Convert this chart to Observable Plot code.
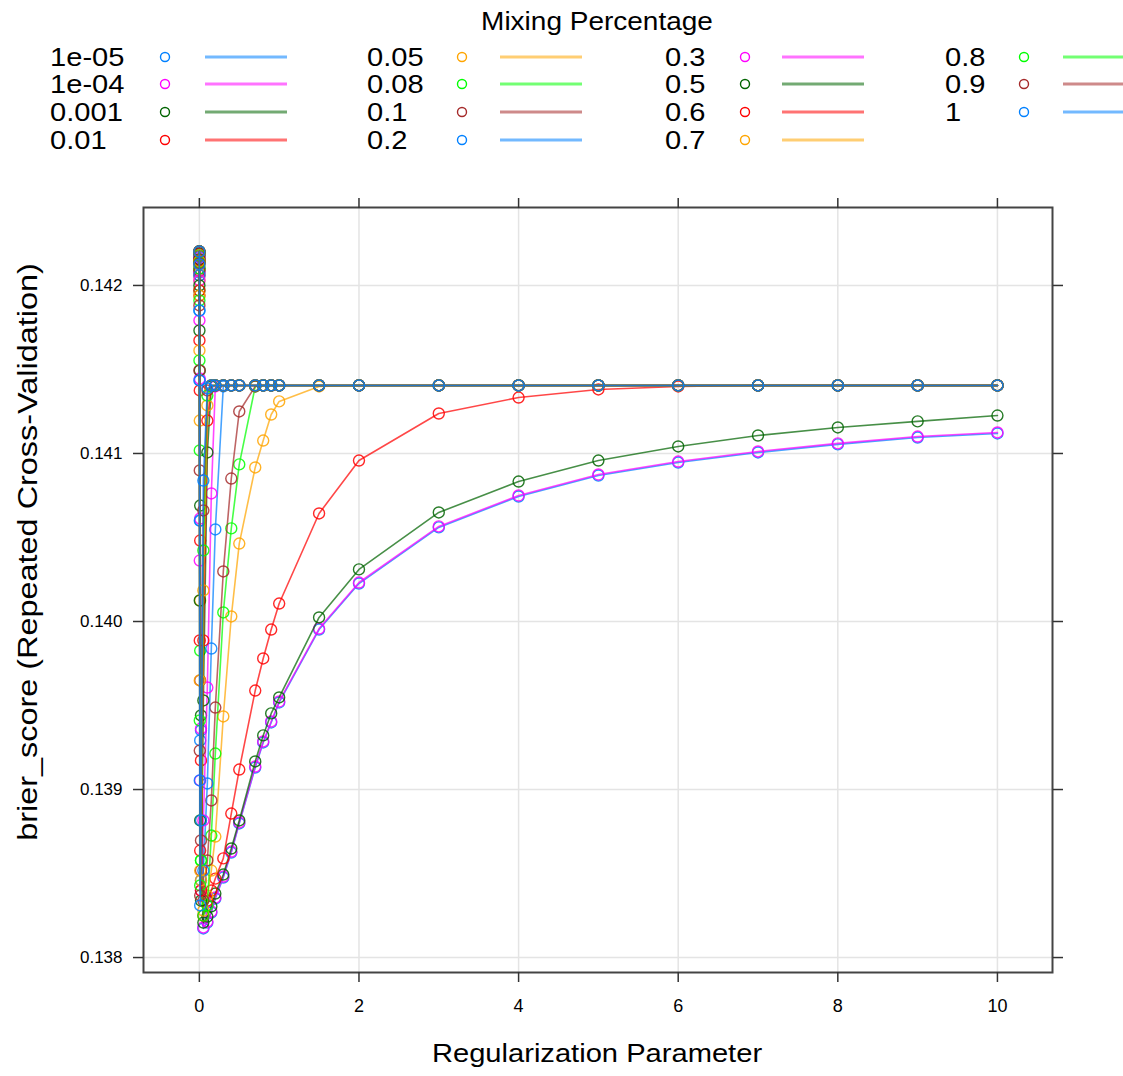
<!DOCTYPE html>
<html><head><meta charset="utf-8">
<script src="https://cdn.jsdelivr.net/npm/d3@7"></script>
<script src="https://cdn.jsdelivr.net/npm/@observablehq/plot@0.6"></script>
<style>
body{margin:0;background:#fff;font-family:"Liberation Sans",Arial,sans-serif;color:#000;}
#wrap{position:relative;width:1123px;height:1076px;overflow:hidden;background:#fff;}
#legend{position:absolute;left:0;top:0;}
#chart{position:absolute;left:0;top:160px;}
#xtitle{position:absolute;left:597px;top:1053px;transform:translate(-50%,-50%) scale(1.12,1);white-space:nowrap;font-size:26px;line-height:30px;}
#ytitle{position:absolute;left:28px;top:552px;transform:translate(-50%,-50%) rotate(-90deg) scale(1.2,1);white-space:nowrap;font-size:27px;line-height:30px;}
</style></head>
<body>
<div id="wrap">
  <div id="legend"></div>
  <div id="chart"></div>
  <div id="xtitle">Regularization Parameter</div>
  <div id="ytitle">brier_score (Repeated Cross-Validation)</div>
</div>
<script>
// ---- data ----
const legendTitle = "Mixing Percentage";
const alphas = ["1e-05","1e-04","0.001","0.01","0.05","0.08","0.1","0.2","0.3","0.5","0.6","0.7","0.8","0.9","1"];
const colors = ["#0080ff","#ff00ff","#006400","#ff0000","#ffa500","#00ff00","#a52a2a",
                "#0080ff","#ff00ff","#006400","#ff0000","#ffa500","#00ff00","#a52a2a","#0080ff"];
const lambdas = [0, 0.0001, 0.0005, 0.001, 0.005, 0.01, 0.02, 0.05, 0.1, 0.15, 0.2, 0.3, 0.4, 0.5, 0.7, 0.8, 0.9, 1, 1.5, 2, 3, 4, 5, 6, 7, 8, 9, 10];
const xTicks = [0, 2, 4, 6, 8, 10];
const yTicks = [0.138, 0.139, 0.140, 0.141, 0.142];

const brier_1e05 = [0.142202, 0.142190, 0.142137, 0.142077, 0.141435, 0.140601, 0.139352, 0.138173, 0.138208, 0.138268, 0.138351, 0.138476, 0.138625, 0.138798, 0.139131, 0.139280, 0.139399, 0.139518, 0.139952, 0.140226, 0.140560, 0.140744, 0.140869, 0.140946, 0.141006, 0.141054, 0.141095, 0.141119];
const brier_1e04 = [0.142202, 0.142190, 0.142143, 0.142083, 0.141446, 0.140613, 0.139363, 0.138179, 0.138214, 0.138274, 0.138357, 0.138482, 0.138631, 0.138804, 0.139137, 0.139286, 0.139405, 0.139524, 0.139958, 0.140232, 0.140566, 0.140750, 0.140875, 0.140952, 0.141012, 0.141060, 0.141101, 0.141125];
const brier_0001 = [0.142202, 0.142190, 0.142149, 0.142101, 0.141494, 0.140690, 0.139441, 0.138208, 0.138244, 0.138304, 0.138381, 0.138494, 0.138649, 0.138816, 0.139167, 0.139322, 0.139453, 0.139548, 0.140024, 0.140310, 0.140649, 0.140833, 0.140958, 0.141042, 0.141107, 0.141155, 0.141191, 0.141226];
const brier_001 = [0.142202, 0.142185, 0.142137, 0.142060, 0.141375, 0.140482, 0.139173, 0.138250, 0.138339, 0.138399, 0.138470, 0.138590, 0.138857, 0.139119, 0.139589, 0.139780, 0.139952, 0.140107, 0.140643, 0.140958, 0.141238, 0.141333, 0.141381, 0.141399, 0.141405, 0.141405, 0.141405, 0.141405];
const brier_005 = [0.142202, 0.142179, 0.142119, 0.142030, 0.141196, 0.140125, 0.138816, 0.138280, 0.138369, 0.138518, 0.138720, 0.139435, 0.140030, 0.140464, 0.140917, 0.141077, 0.141232, 0.141310, 0.141399, 0.141405, 0.141405, 0.141405, 0.141405, 0.141405, 0.141405, 0.141405, 0.141405, 0.141405];
const brier_008 = [0.142202, 0.142179, 0.142101, 0.141970, 0.141018, 0.139827, 0.138578, 0.138250, 0.138310, 0.138726, 0.139214, 0.140054, 0.140554, 0.140935, 0.141399, 0.141405, 0.141405, 0.141405, 0.141405, 0.141405, 0.141405, 0.141405, 0.141405, 0.141405, 0.141405, 0.141405, 0.141405, 0.141405];
const brier_01 = [0.142202, 0.142173, 0.142089, 0.141940, 0.140899, 0.139649, 0.138518, 0.138339, 0.138578, 0.138935, 0.139488, 0.140298, 0.140851, 0.141250, 0.141399, 0.141405, 0.141405, 0.141405, 0.141405, 0.141405, 0.141405, 0.141405, 0.141405, 0.141405, 0.141405, 0.141405, 0.141405, 0.141405];
const brier_02 = [0.142202, 0.142167, 0.142060, 0.141851, 0.140601, 0.139292, 0.138459, 0.138518, 0.139036, 0.139839, 0.140548, 0.141399, 0.141405, 0.141405, 0.141405, 0.141405, 0.141405, 0.141405, 0.141405, 0.141405, 0.141405, 0.141405, 0.141405, 0.141405, 0.141405, 0.141405, 0.141405, 0.141405];
const brier_03 = [0.142202, 0.142161, 0.142030, 0.141792, 0.140363, 0.139054, 0.138399, 0.138816, 0.139607, 0.140762, 0.141399, 0.141405, 0.141405, 0.141405, 0.141405, 0.141405, 0.141405, 0.141405, 0.141405, 0.141405, 0.141405, 0.141405, 0.141405, 0.141405, 0.141405, 0.141405, 0.141405, 0.141405];
const brier_05 = [0.142202, 0.142155, 0.142000, 0.141732, 0.140125, 0.138816, 0.138339, 0.139530, 0.141006, 0.141399, 0.141405, 0.141405, 0.141405, 0.141405, 0.141405, 0.141405, 0.141405, 0.141405, 0.141405, 0.141405, 0.141405, 0.141405, 0.141405, 0.141405, 0.141405, 0.141405, 0.141405, 0.141405];
const brier_06 = [0.142202, 0.142149, 0.141970, 0.141673, 0.139887, 0.138637, 0.138399, 0.139887, 0.141196, 0.141405, 0.141405, 0.141405, 0.141405, 0.141405, 0.141405, 0.141405, 0.141405, 0.141405, 0.141405, 0.141405, 0.141405, 0.141405, 0.141405, 0.141405, 0.141405, 0.141405, 0.141405, 0.141405];
const brier_07 = [0.142202, 0.142143, 0.141940, 0.141613, 0.139649, 0.138518, 0.138459, 0.140185, 0.141286, 0.141405, 0.141405, 0.141405, 0.141405, 0.141405, 0.141405, 0.141405, 0.141405, 0.141405, 0.141405, 0.141405, 0.141405, 0.141405, 0.141405, 0.141405, 0.141405, 0.141405, 0.141405, 0.141405];
const brier_08 = [0.142202, 0.142137, 0.141911, 0.141554, 0.139411, 0.138429, 0.138578, 0.140423, 0.141345, 0.141405, 0.141405, 0.141405, 0.141405, 0.141405, 0.141405, 0.141405, 0.141405, 0.141405, 0.141405, 0.141405, 0.141405, 0.141405, 0.141405, 0.141405, 0.141405, 0.141405, 0.141405, 0.141405];
const brier_09 = [0.142202, 0.142131, 0.141881, 0.141494, 0.139232, 0.138369, 0.138697, 0.140661, 0.141375, 0.141405, 0.141405, 0.141405, 0.141405, 0.141405, 0.141405, 0.141405, 0.141405, 0.141405, 0.141405, 0.141405, 0.141405, 0.141405, 0.141405, 0.141405, 0.141405, 0.141405, 0.141405, 0.141405];
const brier_1 = [0.142202, 0.142125, 0.141851, 0.141435, 0.139054, 0.138310, 0.138816, 0.140839, 0.141387, 0.141405, 0.141405, 0.141405, 0.141405, 0.141405, 0.141405, 0.141405, 0.141405, 0.141405, 0.141405, 0.141405, 0.141405, 0.141405, 0.141405, 0.141405, 0.141405, 0.141405, 0.141405, 0.141405];

const seriesValues = [brier_1e05, brier_1e04, brier_0001, brier_001, brier_005, brier_008, brier_01,
                      brier_02, brier_03, brier_05, brier_06, brier_07, brier_08, brier_09, brier_1];

// ---- table ----
const rows = [];
alphas.forEach((a, i) => seriesValues[i].forEach((v, j) => rows.push({alpha: a, lambda: lambdas[j], brier: v})));

// ---- legend ----
const lg = d3.select("#legend").append("svg").attr("width", 1123).attr("height", 160)
  .style("font-family", '"Liberation Sans", Arial, sans-serif');
lg.append("text").attr("transform", "translate(597,22) scale(1.12,1)").attr("text-anchor", "middle")
  .attr("dominant-baseline", "central").attr("font-size", 25).text(legendTitle);
const colLabelX = [50, 367, 665, 945], colDotX = [165, 462, 745, 1024], colLineX = [205, 500, 782, 1063];
const rowY = [57, 84, 112, 140];
alphas.forEach((a, i) => {
  const c = Math.floor(i / 4), r = i % 4;
  const g = lg.append("g");
  g.append("text").attr("transform", `translate(${colLabelX[c]},${rowY[r]}) scale(1.12,1)`)
    .attr("dominant-baseline", "central").attr("font-size", 26).text(a);
  g.append("circle").attr("cx", colDotX[c]).attr("cy", rowY[r]).attr("r", 4.5)
    .attr("fill", "none").attr("stroke", colors[i]).attr("stroke-width", 1.4);
  g.append("line").attr("x1", colLineX[c]).attr("x2", colLineX[c] + 82).attr("y1", rowY[r]).attr("y2", rowY[r])
    .attr("stroke", colors[i]).attr("stroke-width", 3).attr("stroke-opacity", 0.55);
});

// ---- plot ----
const seriesMarks = [];
alphas.forEach((a) => {
  const d = rows.filter(r => r.alpha === a);
  seriesMarks.push(Plot.line(d, {x: "lambda", y: "brier", stroke: "alpha", strokeWidth: 1.6, strokeOpacity: 0.72}));
  seriesMarks.push(Plot.dot(d, {x: "lambda", y: "brier", stroke: "alpha", r: 5.5, strokeWidth: 1.4, strokeOpacity: 0.85, fill: "none"}));
});

const chart = Plot.plot({
  width: 1123,
  height: 916,
  marginTop: 47,
  marginBottom: 104,
  marginLeft: 143,
  marginRight: 71,
  style: {fontFamily: '"Liberation Sans", Arial, sans-serif', fontSize: "17px", color: "#000", background: "#fff"},
  x: {domain: [-0.7, 10.69]},
  y: {domain: [0.137911, 0.142464]},
  color: {type: "ordinal", domain: alphas, range: colors},
  marks: [
    Plot.gridX(xTicks, {stroke: "#e4e4e4", strokeOpacity: 1, strokeWidth: 1.5}),
    Plot.gridY(yTicks, {stroke: "#e4e4e4", strokeOpacity: 1, strokeWidth: 1.5}),
    ...seriesMarks,
    Plot.frame({stroke: "#444", strokeWidth: 2}),
    Plot.axisX({anchor: "bottom", ticks: xTicks, tickSize: 10, tickPadding: 17, label: null, stroke: "#333", strokeWidth: 1.5, fontSize: 18}),
    Plot.axisX({anchor: "top", ticks: xTicks, tickSize: 10, tickFormat: () => "", label: null, stroke: "#333", strokeWidth: 1.5}),
    Plot.axisY({anchor: "left", ticks: yTicks, tickSize: 10, tickPadding: 11, tickFormat: d3.format(".3f"), label: null, stroke: "#333", strokeWidth: 1.5, fontSize: 17}),
    Plot.axisY({anchor: "right", ticks: yTicks, tickSize: 10, tickFormat: () => "", label: null, stroke: "#333", strokeWidth: 1.5})
  ]
});
document.getElementById("chart").appendChild(chart);
</script>
</body></html>
